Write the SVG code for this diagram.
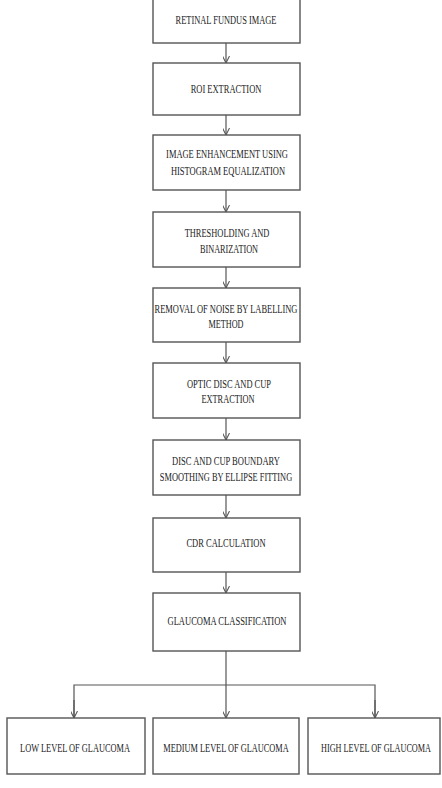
<svg xmlns="http://www.w3.org/2000/svg" width="442" height="788" viewBox="0 0 442 788">
<defs>
<style>
.box{fill:#fff;stroke:#555;stroke-width:1.4}
.t{font-family:"Liberation Serif","Times New Roman",serif;font-size:12.5px;fill:#222;text-anchor:middle}
.c{fill:none;stroke:#555;stroke-width:1.2}
</style>
<marker id="ah" viewBox="0 0 10 10" refX="10" refY="5" markerWidth="7" markerHeight="7" markerUnits="userSpaceOnUse" orient="auto">
<path d="M0,0 L10,5 L0,10" fill="none" stroke="#555" stroke-width="1.5"/>
</marker>
</defs>
<rect width="442" height="788" fill="#fff"/>
<g id="connectors">
<line class="c" x1="226" y1="43" x2="226" y2="63" marker-end="url(#ah)"/>
<line class="c" x1="226" y1="115" x2="226" y2="135" marker-end="url(#ah)"/>
<line class="c" x1="226" y1="190" x2="226" y2="212" marker-end="url(#ah)"/>
<line class="c" x1="226" y1="267" x2="226" y2="288" marker-end="url(#ah)"/>
<line class="c" x1="226" y1="342" x2="226" y2="363" marker-end="url(#ah)"/>
<line class="c" x1="226" y1="418" x2="226" y2="440" marker-end="url(#ah)"/>
<line class="c" x1="226" y1="495" x2="226" y2="518" marker-end="url(#ah)"/>
<line class="c" x1="226" y1="572" x2="226" y2="593" marker-end="url(#ah)"/>
<line class="c" x1="226" y1="651" x2="226" y2="718" marker-end="url(#ah)"/>
<polyline class="c" points="74,718 74,685 375,685 375,718"/>
<line class="c" x1="74" y1="700" x2="74" y2="718" marker-end="url(#ah)"/>
<line class="c" x1="375" y1="700" x2="375" y2="718" marker-end="url(#ah)"/>
</g>
<g id="n1"><rect class="box" x="153" y="-2" width="147" height="45"/><text class="t" transform="translate(226,24) scale(0.7,1)" textLength="144" lengthAdjust="spacingAndGlyphs">RETINAL FUNDUS IMAGE</text></g>
<g id="n2"><rect class="box" x="153" y="63" width="147" height="52"/><text class="t" transform="translate(226,93) scale(0.7,1)" textLength="101" lengthAdjust="spacingAndGlyphs">ROI EXTRACTION</text></g>
<g id="n3"><rect class="box" x="153" y="135" width="147" height="55"/><text class="t" transform="translate(227,158) scale(0.7,1)" textLength="174" lengthAdjust="spacingAndGlyphs">IMAGE ENHANCEMENT USING</text><text class="t" transform="translate(228,175) scale(0.7,1)" textLength="163" lengthAdjust="spacingAndGlyphs">HISTOGRAM EQUALIZATION</text></g>
<g id="n4"><rect class="box" x="153" y="212" width="147" height="55"/><text class="t" transform="translate(227,237) scale(0.7,1)" textLength="121" lengthAdjust="spacingAndGlyphs">THRESHOLDING AND</text><text class="t" transform="translate(229,253) scale(0.7,1)" textLength="83" lengthAdjust="spacingAndGlyphs">BINARIZATION</text></g>
<g id="n5"><rect class="box" x="153" y="288" width="147" height="54"/><text class="t" transform="translate(226,313) scale(0.7,1)" textLength="204" lengthAdjust="spacingAndGlyphs">REMOVAL OF NOISE BY LABELLING</text><text class="t" transform="translate(226,328) scale(0.7,1)" textLength="50" lengthAdjust="spacingAndGlyphs">METHOD</text></g>
<g id="n6"><rect class="box" x="153" y="363" width="147" height="55"/><text class="t" transform="translate(229,388) scale(0.7,1)" textLength="120" lengthAdjust="spacingAndGlyphs">OPTIC DISC AND CUP</text><text class="t" transform="translate(228,403) scale(0.7,1)" textLength="76" lengthAdjust="spacingAndGlyphs">EXTRACTION</text></g>
<g id="n7"><rect class="box" x="153" y="440" width="147" height="55"/><text class="t" transform="translate(226,465) scale(0.7,1)" textLength="154" lengthAdjust="spacingAndGlyphs">DISC AND CUP BOUNDARY</text><text class="t" transform="translate(226,481) scale(0.7,1)" textLength="189" lengthAdjust="spacingAndGlyphs">SMOOTHING BY ELLIPSE FITTING</text></g>
<g id="n8"><rect class="box" x="153" y="518" width="147" height="54"/><text class="t" transform="translate(226,547) scale(0.7,1)" textLength="113" lengthAdjust="spacingAndGlyphs">CDR CALCULATION</text></g>
<g id="n9"><rect class="box" x="153" y="593" width="147" height="58"/><text class="t" transform="translate(227,625) scale(0.7,1)" textLength="170" lengthAdjust="spacingAndGlyphs">GLAUCOMA CLASSIFICATION</text></g>
<g id="n10"><rect class="box" x="7" y="718" width="138" height="56"/><text class="t" transform="translate(75,752) scale(0.7,1)" textLength="157" lengthAdjust="spacingAndGlyphs">LOW LEVEL OF GLAUCOMA</text></g>
<g id="n11"><rect class="box" x="153" y="718" width="146" height="56"/><text class="t" transform="translate(226,752) scale(0.7,1)" textLength="179" lengthAdjust="spacingAndGlyphs">MEDIUM LEVEL OF GLAUCOMA</text></g>
<g id="n12"><rect class="box" x="308" y="718" width="132" height="56"/><text class="t" transform="translate(376,752) scale(0.7,1)" textLength="157" lengthAdjust="spacingAndGlyphs">HIGH LEVEL OF GLAUCOMA</text></g>
</svg>
